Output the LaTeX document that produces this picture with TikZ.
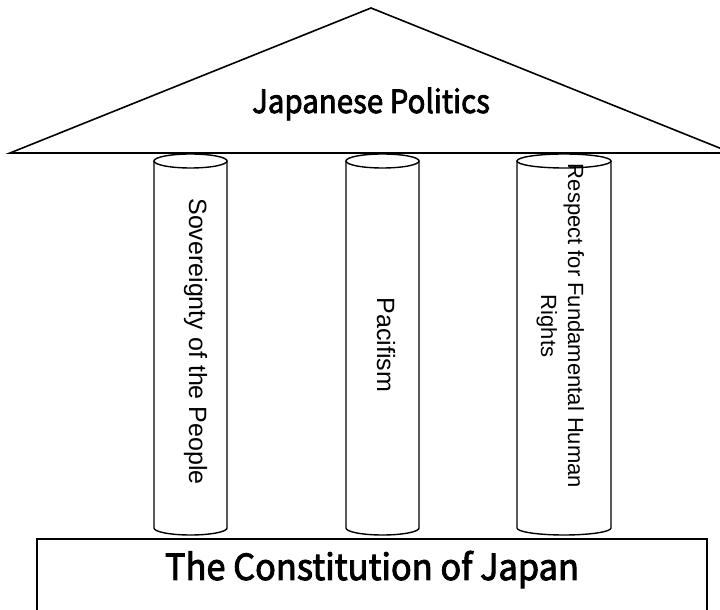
\documentclass[tikz,border=0pt]{standalone}
\usepackage{fontspec}
\setmainfont{Liberation Sans}
\newfontfamily\gothicA[FakeStretch=0.92,FakeBold=2.5]{Noto Sans CJK JP}
\newfontfamily\gothicB[FakeStretch=0.955,FakeBold=2.5]{Noto Sans CJK JP}
\begin{document}
\begin{tikzpicture}[x=1pt,y=1pt,
  outline/.style={draw=black,line width=1.6pt,fill=white,line join=miter},
  pillar/.style={draw=black,line width=1.4pt,fill=white},
  pillartext/.style={rotate=-90,anchor=base,inner sep=0pt,font=\fontsize{25}{29}\selectfont,align=center},
  title/.style={anchor=base,inner sep=0pt}]
\useasboundingbox (0,0) rectangle (720,610);
% roof
\draw[outline] (10,457) -- (371,602) -- (732,457) -- cycle;
% base
\draw[outline] (37,71) rectangle (707,-15);
% pillars
\foreach \cx/\rx in {190.5/36.5, 382.5/36.5, 564/47}{
  \draw[pillar] (\cx-\rx,449) -- (\cx-\rx,82)
     arc[start angle=180,end angle=360,x radius=\rx pt,y radius=7pt]
     -- (\cx+\rx,449);
  \draw[pillar] (\cx,449) ellipse [x radius=\rx pt,y radius=7pt];
}
\node[title,font=\gothicA\fontsize{32}{36}\selectfont] (roof) at (371,497) {Japanese Politics};
\node[title,font=\gothicB\fontsize{36}{40}\selectfont] (base) at (372,30) {The Constitution of Japan};
\node[pillartext] (p1) at (189,268.5) {Sovereignty of the People};
\node[pillartext] (p2) at (377,265) {Pacifism};
\node[pillartext,font=\fontsize{22}{27}\selectfont] (p3) at (541,284) {Respect for Fundamental Human\\Rights};
\end{tikzpicture}
\end{document}
